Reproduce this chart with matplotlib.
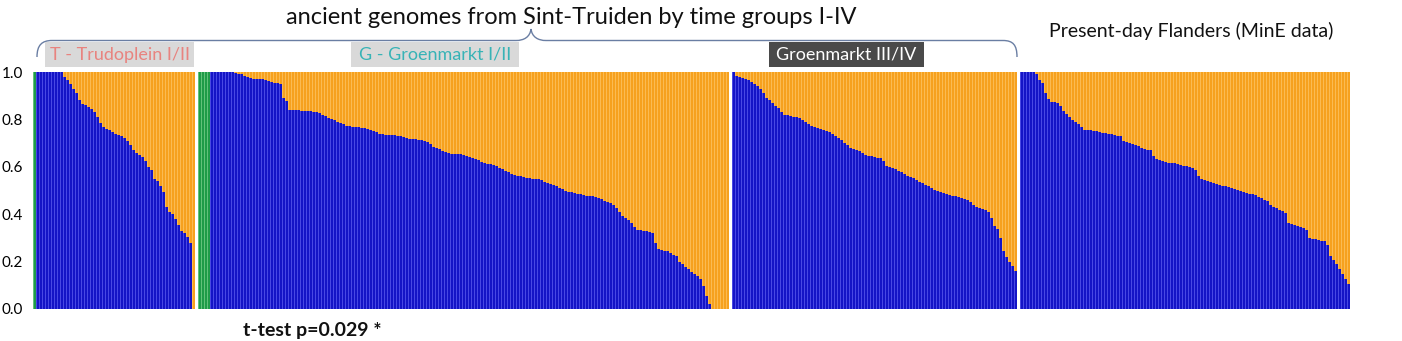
import matplotlib
matplotlib.use("Agg")
import matplotlib.pyplot as plt
import numpy as np
from matplotlib.path import Path
from matplotlib.patches import PathPatch, Rectangle

# ---------------------------------------------------------------------------
# Admixture proportions per individual (sorted by blue component)
# ---------------------------------------------------------------------------
trud_green = [1.0]
trud_blue = [
    1.0, 1.0, 1.0, 1.0, 1.0, 1.0, 1.0, 1.0, 1.0,
    0.98, 0.965, 0.95, 0.93, 0.91, 0.88, 0.865, 0.86, 0.853, 0.845,
    0.83, 0.81, 0.785, 0.77, 0.76, 0.755, 0.745, 0.74, 0.735, 0.73,
    0.72, 0.71, 0.69, 0.67, 0.66, 0.65, 0.64, 0.625, 0.60, 0.585,
    0.55, 0.54, 0.52, 0.495, 0.43, 0.41, 0.40, 0.38, 0.355, 0.33,
    0.32, 0.305, 0.28,
    0.0,
]

gm12_green = [1.0, 1.0, 1.0, 1.0]
gm12_blue = [
    1.0, 1.0, 1.0, 1.0, 1.0, 1.0, 1.0, 1.0,
    0.996, 0.993, 0.99, 0.985, 0.98, 0.975, 0.972, 0.97, 0.97, 0.97,
    0.965, 0.96, 0.958, 0.955, 0.952, 0.95, 0.89, 0.876, 0.84, 0.84,
    0.839, 0.838, 0.837, 0.836, 0.835, 0.834, 0.832, 0.83, 0.827, 0.82,
    0.813, 0.808, 0.802, 0.797, 0.79, 0.785, 0.779, 0.774, 0.772, 0.77,
    0.768, 0.767, 0.765, 0.762, 0.759, 0.754, 0.75, 0.745, 0.74, 0.738,
    0.736, 0.735, 0.734, 0.733, 0.73, 0.728, 0.724, 0.72, 0.719, 0.717,
    0.716, 0.715, 0.713, 0.71, 0.705, 0.695, 0.685, 0.679, 0.673, 0.667,
    0.661, 0.657, 0.656, 0.655, 0.653, 0.652, 0.649, 0.645, 0.641, 0.637,
    0.632, 0.627, 0.622, 0.615, 0.61, 0.61, 0.609, 0.602, 0.596, 0.59,
    0.583, 0.577, 0.57, 0.566, 0.563, 0.56, 0.557, 0.554, 0.552, 0.55,
    0.549, 0.547, 0.544, 0.537, 0.53, 0.526, 0.522, 0.518, 0.512, 0.506,
    0.499, 0.495, 0.492, 0.489, 0.487, 0.484, 0.481, 0.478, 0.477, 0.475,
    0.474, 0.47, 0.463, 0.456, 0.452, 0.446, 0.437, 0.427, 0.41, 0.393,
    0.383, 0.374, 0.362, 0.347, 0.335, 0.333, 0.33, 0.328, 0.325, 0.32,
    0.28, 0.255, 0.25, 0.246, 0.243, 0.235, 0.228, 0.222, 0.198, 0.188,
    0.178, 0.167, 0.157, 0.148, 0.138, 0.128, 0.095, 0.055, 0.02, 0.0,
    0.0, 0.0, 0.0, 0.0, 0.0,
]

gm34_green = []
gm34_blue = [
    1.0, 0.982, 0.978, 0.975, 0.971, 0.967, 0.958, 0.95, 0.941, 0.928,
    0.91, 0.89, 0.88, 0.871, 0.858, 0.846, 0.833, 0.82, 0.817, 0.814,
    0.812, 0.81, 0.805, 0.796, 0.787, 0.78, 0.774, 0.769, 0.765, 0.76,
    0.756, 0.751, 0.746, 0.74, 0.731, 0.722, 0.713, 0.7, 0.69, 0.681,
    0.676, 0.671, 0.665, 0.657, 0.65, 0.647, 0.644, 0.641, 0.639, 0.636,
    0.626, 0.602, 0.598, 0.594, 0.59, 0.583, 0.577, 0.568, 0.561, 0.556,
    0.551, 0.545, 0.536, 0.53, 0.522, 0.517, 0.51, 0.504, 0.499, 0.493,
    0.489, 0.485, 0.481, 0.478, 0.475, 0.472, 0.469, 0.466, 0.462, 0.452,
    0.439, 0.431, 0.425, 0.42, 0.416, 0.41, 0.385, 0.35, 0.336, 0.3,
    0.245, 0.22, 0.2, 0.18, 0.16,
]

flanders_green = []
flanders_blue = [
    1.0, 1.0, 1.0, 1.0, 1.0, 0.99, 0.965, 0.952, 0.91, 0.886,
    0.875, 0.873, 0.871, 0.856, 0.837, 0.822, 0.81, 0.798, 0.789, 0.78,
    0.766, 0.756, 0.755, 0.754, 0.752, 0.749, 0.746, 0.744, 0.742, 0.739,
    0.737, 0.735, 0.732, 0.728, 0.71, 0.703, 0.7, 0.696, 0.692, 0.686,
    0.68, 0.674, 0.672, 0.671, 0.645, 0.635, 0.628, 0.623, 0.619, 0.618,
    0.617, 0.615, 0.612, 0.609, 0.605, 0.602, 0.598, 0.595, 0.585, 0.56,
    0.55, 0.546, 0.542, 0.536, 0.532, 0.527, 0.523, 0.52, 0.517, 0.513,
    0.51, 0.506, 0.502, 0.497, 0.494, 0.49, 0.487, 0.484, 0.481, 0.474,
    0.468, 0.462, 0.455, 0.438, 0.43, 0.425, 0.419, 0.413, 0.406, 0.362,
    0.358, 0.355, 0.351, 0.347, 0.341, 0.333, 0.3, 0.297, 0.294, 0.292,
    0.288, 0.285, 0.268, 0.225, 0.205, 0.19, 0.17, 0.148, 0.125, 0.105,
]

group_labels = ["T - Trudoplein I/II", "G - Groenmarkt I/II", "Groenmarkt III/IV"]
title_text = "ancient genomes from Sint-Truiden by time groups I-IV"
modern_text = "Present-day Flanders (MinE data)"
stat_text = "t-test p=0.029 *"
ytick_vals = [0.0, 0.2, 0.4, 0.6, 0.8, 1.0]
ytick_labels = ["0.0", "0.2", "0.4", "0.6", "0.8", "1.0"]

# component colours: (main fill, lighter separator)
GREEN = ("#1e9b48", "#62c27a")
BLUE = ("#1414c6", "#4848e4")
ORANGE = ("#f6a11e", "#fbbb52")

# ---------------------------------------------------------------------------
W, H, DPI = 1402, 341, 100
plt.rcParams["font.family"] = ["Lato", "DejaVu Sans"]
fig = plt.figure(figsize=(W / DPI, H / DPI), dpi=DPI)
fig.patch.set_facecolor("white")


def fx(px):
    return px / W


def fy(py):
    return 1 - py / H


GAP = 1
panels = [
    (trud_green, trud_blue),
    (gm12_green, gm12_blue),
    (gm34_green, gm34_blue),
    (flanders_green, flanders_blue),
]
n_units = sum(len(g) + len(b) for g, b in panels) + GAP * (len(panels) - 1)
BAR_PX = 3  # each individual gets three device pixels
ax_left, ax_top, ax_bottom = 33, 72, 309
ax = fig.add_axes([fx(ax_left), fy(ax_bottom),
                   fx(ax_left + n_units * BAR_PX) - fx(ax_left),
                   fy(ax_top) - fy(ax_bottom)])

x0 = 0
for g, b in panels:
    green = np.array(list(g) + [0.0] * len(b))
    blue = np.array([0.0] * len(g) + list(b))
    orange = np.clip(1.0 - green - blue, 0, 1)
    xs = x0 + np.arange(len(green))
    bottom = np.zeros(len(green))
    for vals, (main, light) in [(green, GREEN), (blue, BLUE), (orange, ORANGE)]:
        ax.bar(xs, vals, width=1.0, bottom=bottom, align="edge",
               color=light, linewidth=0)
        ax.bar(xs + 1 / 3, vals, width=2 / 3, bottom=bottom, align="edge",
               color=main, linewidth=0)
        bottom = bottom + vals
    x0 += len(green) + GAP

ax.set_xlim(0, n_units)
ax.set_ylim(0, 1)
ax.set_xticks([])
ax.set_yticks(ytick_vals)
ax.set_yticklabels(ytick_labels, fontsize=11)
ax.tick_params(axis="y", length=0, pad=7)
for s in ax.spines.values():
    s.set_visible(False)

# titles
fig.text(fx(571), fy(17), title_text, ha="center", va="center",
         fontsize=17, color="#111111")
fig.text(fx(1191), fy(31), modern_text, ha="center", va="center",
         fontsize=14, color="#111111")

# curly brace spanning the ancient samples
bx = [(37, 57), (37, 45), (42, 40.5), (52, 40.5),
      (516, 40.5),
      (524, 40.5), (530, 37), (531, 29),
      (532, 37), (538, 40.5), (546, 40.5),
      (1003, 40.5),
      (1013, 40.5), (1017, 45), (1017, 57)]
codes = [Path.MOVETO, Path.CURVE4, Path.CURVE4, Path.CURVE4,
         Path.LINETO,
         Path.CURVE4, Path.CURVE4, Path.CURVE4,
         Path.CURVE4, Path.CURVE4, Path.CURVE4,
         Path.LINETO,
         Path.CURVE4, Path.CURVE4, Path.CURVE4]
brace = Path([(fx(a), fy(b)) for a, b in bx], codes)
fig.patches.append(PathPatch(brace, transform=fig.transFigure, fill=False,
                             edgecolor="#6a7ea3", linewidth=1.0))

# group label boxes
boxes = [
    (45, 194, "#d9d9d9", "#e8837f"),
    (351, 519, "#d9d9d9", "#37b3b6"),
    (769, 924, "#4a4a4a", "#ffffff"),
]
for (left, right, bg, fg), label in zip(boxes, group_labels):
    fig.patches.append(Rectangle((fx(left), fy(67)), fx(right) - fx(left),
                                 fy(42.5) - fy(67), transform=fig.transFigure,
                                 facecolor=bg, edgecolor="none"))
    fig.text(fx((left + right) / 2), fy(55), label, ha="center", va="center",
             fontsize=13, color=fg)

fig.text(fx(243), fy(336), stat_text, ha="left", va="baseline",
         fontsize=14, fontweight="bold", color="#111111")

fig.savefig("out.png", dpi=DPI, facecolor="white")
